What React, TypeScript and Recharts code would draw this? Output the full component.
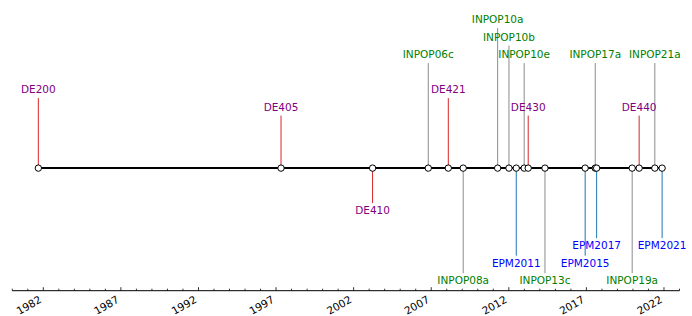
import { ComposedChart, Line, Scatter, XAxis, YAxis } from "recharts";

// release dates (decimal years) and stem levels
const deNames = ["DE200", "DE405", "DE410", "DE421", "DE430", "DE440"];
const deDates = [1981.68, 1997.32, 2003.22, 2008.1, 2013.25, 2020.4];
const deLevels = [4, 3, -2, 4, 3, 3];

const inpopNames = ["INPOP06c", "INPOP08a", "INPOP10a", "INPOP10b", "INPOP10e", "INPOP13c", "INPOP17a", "INPOP19a", "INPOP21a"];
const inpopDates = [2006.81, 2009.06, 2011.28, 2012.01, 2012.99, 2014.33, 2017.57, 2019.95, 2021.41];
const inpopLevels = [6, -6, 8, 7, 6, -6, 6, -6, 6];

const epmNames = ["EPM2011", "EPM2015", "EPM2017", "EPM2021"];
const epmDates = [2012.48, 2016.92, 2017.66, 2021.88];
const epmLevels = [-5, -5, -4, -4];

const majorYears = [1982, 1987, 1992, 1997, 2002, 2007, 2012, 2017, 2022];
const allYears = [
  1980, 1981, 1982, 1983, 1984, 1985, 1986, 1987, 1988, 1989, 1990, 1991,
  1992, 1993, 1994, 1995, 1996, 1997, 1998, 1999, 2000, 2001, 2002, 2003,
  2004, 2005, 2006, 2007, 2008, 2009, 2010, 2011, 2012, 2013, 2014, 2015,
  2016, 2017, 2018, 2019, 2020, 2021, 2022, 2023,
];

const FONT = "DejaVu Sans, sans-serif";

type Group = { names: string[]; dates: number[]; levels: number[]; stem: string; text: string };

const groups: Group[] = [
  { names: deNames, dates: deDates, levels: deLevels, stem: "#d62728", text: "#800080" },
  { names: inpopNames, dates: inpopDates, levels: inpopLevels, stem: "#8c8c8c", text: "#008000" },
  { names: epmNames, dates: epmDates, levels: epmLevels, stem: "#1f77b4", text: "#0000ff" },
];

const timeline = [...deDates, ...inpopDates, ...epmDates]
  .sort((a, b) => a - b)
  .map((t) => ({ t, y: 0 }));

function YearTick(props: any) {
  const { x, y, payload } = props;
  const major = majorYears.includes(payload.value);
  const ly = y + 11;
  return (
    <g>
      <line x1={x} y1={y} x2={x} y2={y - (major ? 3.5 : 2)} stroke="#000" strokeWidth={0.8} />
      {major && (
        <text
          x={x - 1}
          y={ly}
          transform={`rotate(-30, ${x - 1}, ${ly})`}
          textAnchor="end"
          fontSize={10.5}
          fontFamily={FONT}
          fill="#000"
        >
          {payload.value}
        </text>
      )}
    </g>
  );
}

function makeLabel(color: string) {
  return (props: any) => {
    const { cx, cy, payload } = props;
    const up = payload.y > 0;
    return (
      <text
        x={cx}
        y={up ? cy - 5 : cy + 11}
        textAnchor="middle"
        fontSize={10.5}
        fontFamily={FONT}
        fill={color}
      >
        {payload.name}
      </text>
    );
  };
}

export default function App() {
  return (
    <div style={{ width: 692, height: 316 }}>
      <style>{"body{margin:0}"}</style>
      <ComposedChart
        width={692}
        height={316}
        margin={{ top: 10.5, right: 12.5, bottom: 0, left: 12.27 }}
      >
        <XAxis
          type="number"
          dataKey="t"
          domain={[1980, 2023]}
          ticks={allYears}
          interval={0}
          tick={<YearTick />}
          tickLine={false}
          tickSize={0}
          tickMargin={0}
          height={25.3}
          axisLine={{ stroke: "#000", strokeWidth: 1 }}
        />
        <YAxis type="number" hide domain={[-7, 9]} />
        {groups.flatMap((g) =>
          g.dates.map((t, i) => (
            <Line
              key={g.names[i] + "-stem"}
              data={[
                { t, y: 0 },
                { t, y: g.levels[i] },
              ]}
              dataKey="y"
              stroke={g.stem}
              strokeWidth={1}
              dot={false}
              activeDot={false}
              isAnimationActive={false}
            />
          ))
        )}
        <Line
          data={timeline}
          dataKey="y"
          stroke="#000"
          strokeWidth={2}
          dot={(p: any) => (
            <circle key={p.index} cx={p.cx} cy={p.cy} r={3.2} fill="#fff" stroke="#000" strokeWidth={1} />
          )}
          activeDot={false}
          isAnimationActive={false}
        />
        {groups.map((g) => (
          <Scatter
            key={g.text}
            data={g.dates.map((t, i) => ({ t, y: g.levels[i], name: g.names[i] }))}
            dataKey="y"
            shape={makeLabel(g.text)}
            isAnimationActive={false}
          />
        ))}
      </ComposedChart>
    </div>
  );
}
